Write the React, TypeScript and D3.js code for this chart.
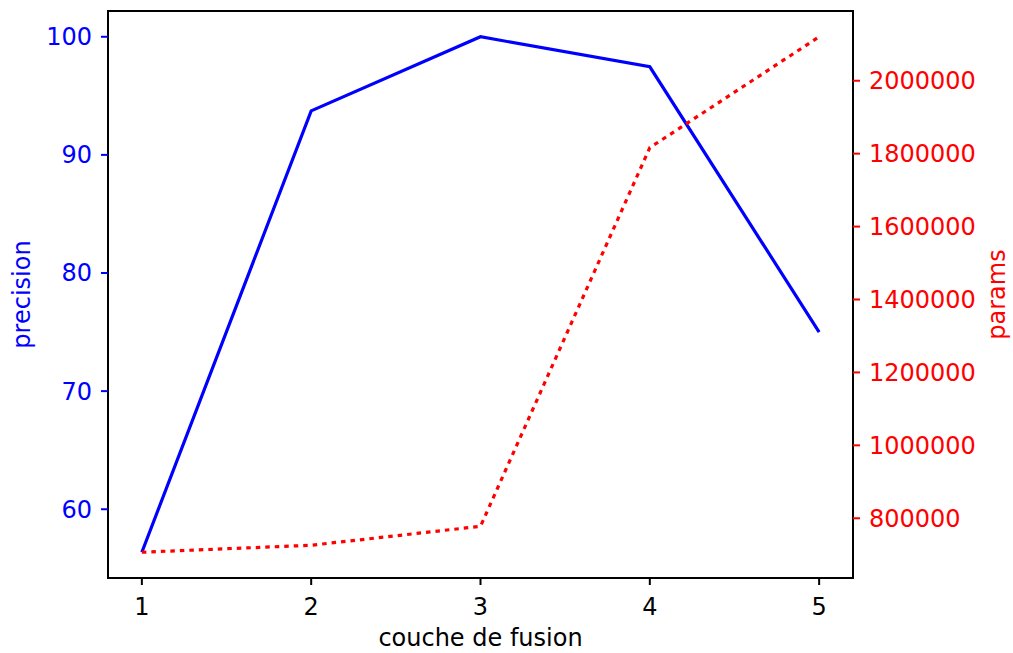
import React from "react";
import * as d3 from "d3";

const layers = [1, 2, 3, 4, 5];
const precision = [56.36, 93.73, 100, 97.46, 75.0];
const params = [706850, 726000, 778000, 1816440, 2120548];
const leftTicks = [60, 70, 80, 90, 100];
const rightTicks = [800000, 1000000, 1200000, 1400000, 1600000, 1800000, 2000000];

const W = 1013;
const H = 653;
const L = 108, R = 853, T = 11, B = 578;
const FONT = "DejaVu Sans";
const FS = 24;

export default function App() {
  const x = d3.scaleLinear().domain([0.8, 5.2]).range([L, R]);
  const pmin = d3.min(precision)!, pmax = d3.max(precision)!;
  const pm = (pmax - pmin) * 0.05;
  const yL = d3.scaleLinear().domain([pmin - pm, pmax + pm]).range([B, T]);
  const qmin = d3.min(params)!, qmax = d3.max(params)!;
  const qm = (qmax - qmin) * 0.05;
  const yR = d3.scaleLinear().domain([qmin - qm, qmax + qm]).range([B, T]);

  const lineL = d3.line<number>().x((_, i) => x(layers[i])).y((d) => yL(d));
  const lineR = d3.line<number>().x((_, i) => x(layers[i])).y((d) => yR(d));

  return (
    <svg width={W} height={H} style={{ position: "absolute", left: 0, top: 0 }} fontFamily={FONT}>
      <rect width={W} height={H} fill="white" />
      <path d={lineL(precision)!} fill="none" stroke="blue" strokeWidth={3.2} />
      <path d={lineR(params)!} fill="none" stroke="red" strokeWidth={3.2} strokeDasharray="4.5,5" />
      <rect x={L} y={T} width={R - L} height={B - T} fill="none" stroke="black" strokeWidth={2} />
      {layers.map((v) => (
        <g key={v}>
          <line x1={x(v)} x2={x(v)} y1={B} y2={B + 7} stroke="black" strokeWidth={2} />
          <text x={x(v)} y={B + 37} textAnchor="middle" fontSize={FS} fill="black">{v}</text>
        </g>
      ))}
      {leftTicks.map((v) => (
        <g key={v}>
          <line x1={L - 7} x2={L} y1={yL(v)} y2={yL(v)} stroke="blue" strokeWidth={2} />
          <text x={L - 16} y={yL(v)} dy="0.35em" textAnchor="end" fontSize={FS} fill="blue">{v}</text>
        </g>
      ))}
      {rightTicks.map((v) => (
        <g key={v}>
          <line x1={R} x2={R + 7} y1={yR(v)} y2={yR(v)} stroke="red" strokeWidth={2} />
          <text x={R + 16} y={yR(v)} dy="0.35em" textAnchor="start" fontSize={FS} fill="red">{v}</text>
        </g>
      ))}
      <text x={(L + R) / 2} y={646} textAnchor="middle" fontSize={FS} fill="black">couche de fusion</text>
      <text transform={`translate(30,${(T + B) / 2}) rotate(-90)`} textAnchor="middle" fontSize={FS} fill="blue">precision</text>
      <text transform={`translate(1005,${(T + B) / 2}) rotate(-90)`} textAnchor="middle" fontSize={FS} fill="red">params</text>
    </svg>
  );
}
